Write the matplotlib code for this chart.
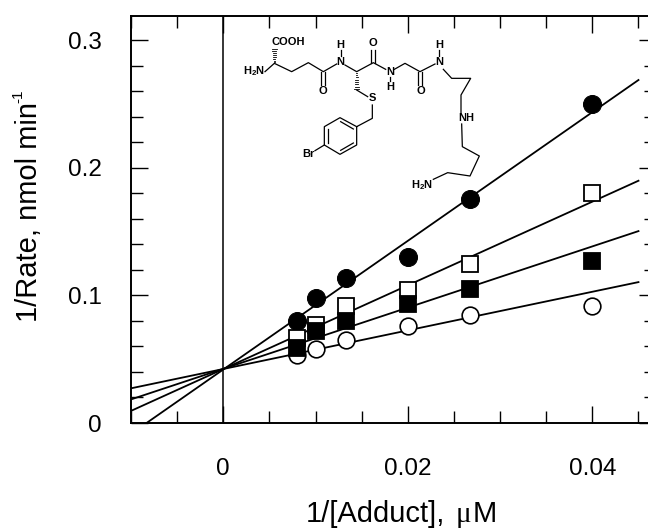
import matplotlib
matplotlib.use('Agg')
import matplotlib.pyplot as plt
from matplotlib.ticker import MultipleLocator, FuncFormatter
from matplotlib.transforms import Affine2D

plt.rcParams['font.family'] = ['Liberation Sans', 'DejaVu Sans']
plt.rcParams['mathtext.fontset'] = 'custom'
plt.rcParams['mathtext.rm'] = 'Liberation Sans'
plt.rcParams['mathtext.bf'] = 'Liberation Sans:bold'

# ── DATA
conc_inv = [0.008, 0.01, 0.0133, 0.02, 0.0267, 0.04]
filled_circle = [0.080, 0.098, 0.114, 0.130, 0.176, 0.250]
open_square = [0.0667, 0.077, 0.092, 0.104, 0.125, 0.180]
filled_square = [0.059, 0.072, 0.080, 0.093, 0.105, 0.127]
open_circle = [0.053, 0.058, 0.065, 0.076, 0.085, 0.092]

fit_x = [-0.01, 0.045]
fit_filled_circle = [-0.0085, 0.269]
fit_open_square = [0.0095, 0.190]
fit_filled_square = [0.0185, 0.1505]
fit_open_circle = [0.0272, 0.1105]

W, H = 648, 528
fig = plt.figure(figsize=(W / 100, H / 100), dpi=100)
# right edge of the frame falls outside the picture, as in the original
L, R, T, B = 131, 656, 16, 423
ax = fig.add_axes([L / W, 1 - B / H, (R - L) / W, (B - T) / H])
ax.set_xlim(-0.01, 0.0469)
ax.set_ylim(0, 0.3192)

for s in ax.spines.values():
    s.set_linewidth(1.4)

ax.axvline(0, color='black', lw=1.1, zorder=1)
for fy in [fit_filled_circle, fit_open_square, fit_filled_square, fit_open_circle]:
    ax.plot(fit_x, fy, color='black', lw=1.3, zorder=2)

ax.plot(conc_inv, filled_circle, 'o', ms=13, mfc='black', mec='black', mew=0.7, zorder=3)
ax.plot(conc_inv, open_square, 's', ms=11.8, mfc='white', mec='black', mew=1.3, zorder=4)
ax.plot(conc_inv, open_circle, 'o', ms=12, mfc='white', mec='black', mew=1.2, zorder=5)
ax.plot(conc_inv, filled_square, 's', ms=11.8, mfc='black', mec='black', mew=1.3, zorder=6)

ax.xaxis.set_major_locator(MultipleLocator(0.02))
ax.xaxis.set_minor_locator(MultipleLocator(0.005))
ax.yaxis.set_major_locator(MultipleLocator(0.1))
ax.yaxis.set_minor_locator(MultipleLocator(0.02))
fmt = FuncFormatter(lambda v, p: '0' if abs(v) < 1e-9 else f'{v:g}')
ax.xaxis.set_major_formatter(fmt)
ax.yaxis.set_major_formatter(fmt)
ax.tick_params(which='both', direction='in', top=True, right=True, width=1.0)
ax.tick_params(which='major', length=12, labelsize=17.5)
ax.tick_params(which='minor', length=8.5)
ax.tick_params(axis='x', which='major', pad=25)
ax.tick_params(axis='y', which='major', pad=21)

# axis titles are built from pieces: serif mu and raised -1 like the original
fig.text(306 / W, 1 - 521.5 / H, '1/[Adduct],', fontsize=21, ha='left', va='baseline')
fig.text(456 / W, 1 - 521.5 / H, 'μ', fontsize=21, family='Liberation Serif', ha='left', va='baseline')
fig.text(497 / W, 1 - 521.5 / H, 'M', fontsize=21, ha='right', va='baseline')
fig.text(37 / W, 1 - 322 / H, '1/Rate, nmol min', fontsize=21, rotation=90, ha='left', va='baseline',
         rotation_mode='anchor')
fig.text(22 / W, 1 - 103 / H, '-1', fontsize=11, rotation=90, ha='left', va='baseline',
         rotation_mode='anchor')

# ── INSET STRUCTURE (coordinates in zoomed-crop pixels)
to_fig = Affine2D().scale(1 / 3).translate(220, 20).scale(1, -1).translate(0, H).scale(1 / W, 1 / H)
tr = to_fig + fig.transFigure

bonds = [
    [(135, 155), (163, 130), (215, 155), (265, 128), (310, 155), (350, 132)],
    [(375, 135), (410, 155), (460, 128), (497, 148)],
    [(523, 148), (555, 130), (600, 155), (645, 132)],
    [(670, 148), (695, 175), (752, 175), (723, 225), (723, 280)],
    [(725, 312), (727, 380), (778, 408), (750, 468), (683, 458), (640, 478)],
    [(410, 210), (443, 230)],
    [(457, 255), (457, 295), (410, 320), (360, 293), (313, 320), (313, 375),
     (360, 403), (410, 375), (410, 320)],
    [(313, 375), (285, 392)],
    # double bonds
    [(304, 155), (304, 195)], [(316, 155), (316, 195)],
    [(454, 128), (454, 90)], [(466, 128), (466, 90)],
    [(594, 155), (594, 195)], [(606, 155), (606, 195)],
    [(400, 327), (362, 305)], [(324, 327), (324, 368)], [(362, 391), (400, 369)],
    # N-H bonds
    [(362, 90), (362, 108)], [(510, 172), (510, 182)], [(657, 90), (657, 108)],
]
for b in bonds:
    xs, ys = zip(*b)
    fig.add_artist(plt.Line2D(xs, ys, color='black', lw=0.9, transform=tr, zorder=7))

# hashed wedges
for x0, y0, y1 in [(163, 130, 85), (410, 155, 210)]:
    for i in range(8):
        y = y0 + (y1 - y0) * (i + 0.5) / 8
        hw = 1 + 6 * (i + 0.5) / 8
        fig.add_artist(plt.Line2D([x0 - hw, x0 + hw], [y, y], color='black', lw=0.6,
                                  transform=tr, zorder=7))

atoms = [
    (205, 65, 'COOH'), (103, 152, r'$\mathbf{H_2N}$'), (310, 212, 'O'), (362, 125, 'N'),
    (362, 75, 'H'), (460, 68, 'O'), (510, 155, 'N'), (510, 202, 'H'), (603, 212, 'O'),
    (657, 125, 'N'), (657, 75, 'H'), (740, 293, 'NH'), (605, 495, r'$\mathbf{H_2N}$'),
    (457, 235, 'S'), (265, 403, 'Br'),
]
for x, y, s in atoms:
    fig.text(x, y, s, transform=tr, fontsize=8, fontweight='bold', ha='center', va='center',
             zorder=8)

fig.savefig('out.png', dpi=100)
